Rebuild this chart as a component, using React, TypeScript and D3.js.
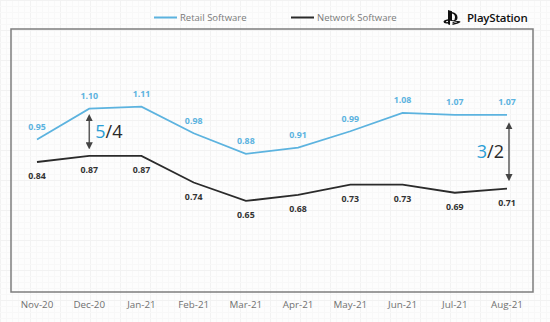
import React from "react";
import * as d3 from "d3";

const months = ["Nov-20", "Dec-20", "Jan-21", "Feb-21", "Mar-21", "Apr-21", "May-21", "Jun-21", "Jul-21", "Aug-21"];
const retail = [0.95, 1.10, 1.11, 0.98, 0.88, 0.91, 0.99, 1.08, 1.07, 1.07];
const network = [0.84, 0.87, 0.87, 0.74, 0.65, 0.68, 0.73, 0.73, 0.69, 0.71];
const seriesNames = ["Retail Software", "Network Software"];
const ratios = [
  { idx: 1, top: "5", bottom: "4" },
  { idx: 9, top: "3", bottom: "2" },
];

const W = 550;
const H = 322;
const BLUE = "#5cb3df";
const BLUE_TEXT = "#2b9fd6";
const DARK = "#2b2b2b";
const FONT = "'Open Sans', 'DejaVu Sans', sans-serif";

export default function App() {
  const x = d3.scalePoint<string>().domain(months).range([37, 507]);
  const y = d3.scaleLinear().domain([0.5, 1.2]).range([231.7, 88.2]);
  const line = d3
    .line<number>()
    .x((_, i) => x(months[i]) as number)
    .y((d) => y(d));

  const box = { x0: 11, y0: 29, x1: 533, y1: 292 };
  const fine = d3.range(0, W, 6);
  const fineY = d3.range(0, H, 6);

  return (
    <svg
      width={W}
      height={H}
      style={{ position: "absolute", left: 0, top: 0, background: "#fdfdfd" }}
      fontFamily={FONT}
    >
      <defs>
        <marker id="ah" viewBox="0 0 10 10" refX="5" refY="5" markerWidth="5.5" markerHeight="5.5" orient="auto-start-reverse">
          <path d="M0,0 L10,5 L0,10 z" fill="#444" />
        </marker>
      </defs>
      <rect x={0} y={0} width={W} height={H} fill="#fdfdfd" />
      {fine.map((v) => (
        <line key={"gx" + v} x1={v + 0.5} x2={v + 0.5} y1={0} y2={H} stroke={v % 30 === 0 ? "#f2f2f2" : "#f8f8f8"} strokeWidth={1} />
      ))}
      {fineY.map((v) => (
        <line key={"gy" + v} y1={v + 0.5} y2={v + 0.5} x1={0} x2={W} stroke={v % 30 === 0 ? "#f2f2f2" : "#f8f8f8"} strokeWidth={1} />
      ))}

      {/* legend */}
      <line x1={154} x2={177} y1={17.5} y2={17.5} stroke={BLUE} strokeWidth={2} />
      <text x={180} y={21} fontSize={9.5} fill="#7a7a7a">{seriesNames[0]}</text>
      <line x1={291} x2={314} y1={17.5} y2={17.5} stroke={DARK} strokeWidth={2} />
      <text x={317} y={21} fontSize={9.5} fill="#7a7a7a">{seriesNames[1]}</text>

      {/* PlayStation logo */}
      <g transform="translate(443,10)" fill="#111">
        <path d="M5,0 L9,1.3 L9,10 Q12,11 12,7.5 Q12,4 9,3.5 L9,2 Q14.5,3 14.5,7.5 Q14.5,12.5 7,10.8 L7,15 L5,14.3 z" />
        <path d="M0.5,11.8 Q0.5,10 5,9.2 L5,10.8 Q2.6,11.2 2.8,11.8 Q3.2,12.4 5,12 L5,13.4 Q0.5,14 0.5,11.8 z" />
        <path d="M9.5,12.3 Q14,10.2 17,11.3 Q18.5,12.3 15,13.5 L9.5,15 L9.5,13.6 L14,12.5 Q15,12 13,12 L9.5,13.2 z" />
      </g>
      <text x={467} y={21.5} fontSize={11.5} fontWeight={600} fill="#111" letterSpacing={-0.2}>PlayStation</text>

      {/* plot box */}
      <rect x={box.x0} y={box.y0} width={box.x1 - box.x0} height={box.y1 - box.y0} fill="none" stroke="#7d7d7d" strokeWidth={1.5} />

      {/* lines */}
      <path d={line(retail) || ""} fill="none" stroke={BLUE} strokeWidth={1.8} />
      <path d={line(network) || ""} fill="none" stroke={DARK} strokeWidth={1.8} />

      {/* value labels */}
      {retail.map((v, i) => (
        <text key={"r" + i} x={x(months[i])} y={y(v) - 9.5} textAnchor="middle" fontSize={8.8} fontWeight={700} fill={BLUE}>
          {v.toFixed(2)}
        </text>
      ))}
      {network.map((v, i) => (
        <text key={"n" + i} x={x(months[i])} y={y(v) + 17} textAnchor="middle" fontSize={8.8} fontWeight={700} fill="#333">
          {v.toFixed(2)}
        </text>
      ))}

      {/* ratio arrows */}
      {ratios.map((r, k) => {
        const cx = (x(months[r.idx]) as number) + (k === 1 ? 2 : 0);
        const ya = y(retail[r.idx]) + (k === 0 ? 6 : 8);
        const yb = y(network[r.idx]) - (k === 0 ? 7 : 8);
        const mid = (ya + yb) / 2;
        return (
          <g key={"ra" + k}>
            <line x1={cx} x2={cx} y1={ya + 3} y2={yb - 3} stroke="#444" strokeWidth={1.3} markerStart="url(#ah)" markerEnd="url(#ah)" />
            <text
              x={k === 0 ? cx + 6 : cx - 5}
              y={mid + 6.5}
              textAnchor={k === 0 ? "start" : "end"}
              fontSize={18}
              fontWeight={400}
              fill="#2a2a2a"
            >
              <tspan fill={BLUE_TEXT}>{r.top}</tspan>
              <tspan>/{r.bottom}</tspan>
            </text>
          </g>
        );
      })}

      {/* x axis labels */}
      {months.map((m) => (
        <text key={m} x={x(m)} y={307.5} textAnchor="middle" fontSize={9.8} fill="#707070">
          {m}
        </text>
      ))}
    </svg>
  );
}
